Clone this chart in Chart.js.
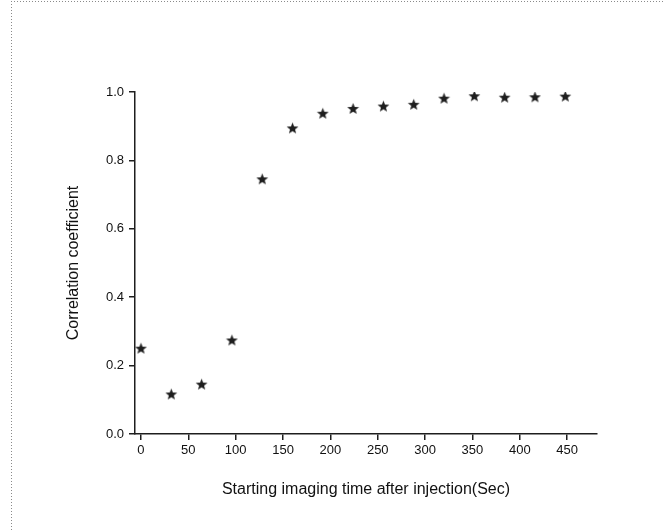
<!DOCTYPE html>
<html>
<head>
<meta charset="utf-8">
<script src="https://cdn.jsdelivr.net/npm/chart.js@4"></script>
<style>
  html, body { margin: 0; padding: 0; background: #fff; }
  #wrap { width: 663px; height: 530px; }
</style>
</head>
<body>
<div id="wrap"><canvas id="corrChart" width="663" height="530"></canvas></div>
<script>
// starting imaging time (sec) and correlation coefficient
const startTimes = [0, 32, 64, 96, 128, 160, 192, 224, 256, 288, 320, 352, 384, 416, 448];
const corrValues = [0.251, 0.117, 0.146, 0.275, 0.746, 0.895, 0.938, 0.952, 0.959, 0.964, 0.982, 0.989, 0.985, 0.986, 0.988];
const xTicks = [0, 50, 100, 150, 200, 250, 300, 350, 400, 450];
const yTicks = [0.0, 0.2, 0.4, 0.6, 0.8, 1.0];

// filled five point star used as marker
function makeStar(size, color) {
    const c = document.createElement('canvas');
    c.width = size; c.height = size;
    const g = c.getContext('2d');
    const cx = size / 2, cy = size / 2 + 0.6;
    const outer = size / 2 - 0.3, inner = outer * 0.42;
    g.beginPath();
    for (let i = 0; i < 10; i++) {
        const r = i % 2 === 0 ? outer : inner;
        const a = -Math.PI / 2 + i * Math.PI / 5;
        const px = cx + r * Math.cos(a), py = cy + r * Math.sin(a);
        if (i === 0) g.moveTo(px, py); else g.lineTo(px, py);
    }
    g.closePath();
    g.fillStyle = color;
    g.fill();
    return c;
}
const starMarker = makeStar(13, '#1e1e1e');

// dotted frame on top and left edge
const framePlugin = {
    id: 'frame',
    beforeDraw(chart) {
        const ctx = chart.ctx;
        ctx.save();
        ctx.strokeStyle = '#8a8a8a';
        ctx.lineWidth = 1;
        ctx.setLineDash([1, 2]);
        ctx.beginPath();
        ctx.moveTo(11, 1.5);
        ctx.lineTo(663, 1.5);
        ctx.moveTo(11.5, 1);
        ctx.lineTo(11.5, 530);
        ctx.stroke();
        ctx.restore();
    }
};

const tickFont = { family: 'Liberation Sans, Arial, sans-serif', size: 13 };
const titleFont = { family: 'Liberation Sans, Arial, sans-serif', size: 16 };

new Chart(document.getElementById('corrChart').getContext('2d'), {
    type: 'scatter',
    data: {
        datasets: [{
            label: 'Correlation',
            data: startTimes.map((t, i) => ({ x: t, y: corrValues[i] })),
            pointStyle: starMarker,
            pointRadius: 6,
            pointHoverRadius: 6
        }]
    },
    options: {
        responsive: false,
        animation: false,
        layout: { padding: { left: 60, top: 92, right: 66, bottom: 27 } },
        plugins: {
            legend: { display: false },
            tooltip: { enabled: false }
        },
        scales: {
            x: {
                type: 'linear',
                min: -6.3,
                max: 481.5,
                afterBuildTicks: (scale) => { scale.ticks = xTicks.map(v => ({ value: v })); },
                afterFit: (scale) => { scale.height = 69; },
                border: { display: true, color: '#1e1e1e', width: 1.5 },
                grid: { display: true, drawOnChartArea: false, drawTicks: true, tickLength: 6, color: '#1e1e1e', lineWidth: 1.5 },
                ticks: { color: '#111', font: tickFont, padding: 3, maxRotation: 0, autoSkip: false },
                title: { display: true, text: 'Starting imaging time after injection(Sec)', color: '#111', font: titleFont, padding: { top: 4, bottom: 4 } }
            },
            y: {
                type: 'linear',
                min: 0,
                max: 1.0,
                afterBuildTicks: (scale) => { scale.ticks = yTicks.map(v => ({ value: v })); },
                afterFit: (scale) => { scale.width = 75; },
                border: { display: true, color: '#1e1e1e', width: 1.5 },
                grid: { display: true, drawOnChartArea: false, drawTicks: true, tickLength: 6, color: '#1e1e1e', lineWidth: 1.5 },
                ticks: { color: '#111', font: tickFont, padding: 5, callback: (v) => v.toFixed(1) },
                title: { display: true, text: 'Correlation coefficient', color: '#111', font: titleFont, padding: { top: 4, bottom: 4 } }
            }
        }
    },
    plugins: [framePlugin]
});
</script>
</body>
</html>
